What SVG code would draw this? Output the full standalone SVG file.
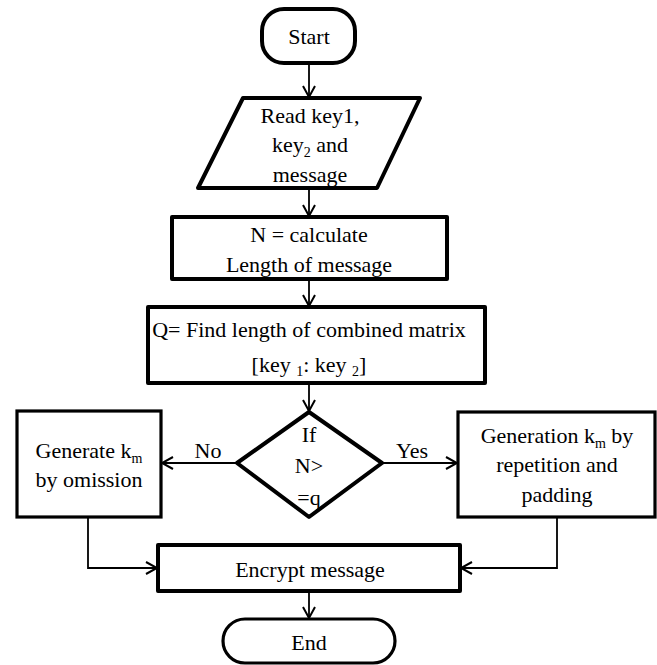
<svg xmlns="http://www.w3.org/2000/svg" width="657" height="665" viewBox="0 0 657 665">
<defs>
<marker id="arr" markerUnits="userSpaceOnUse" markerWidth="14" markerHeight="14" viewBox="0 0 14 14" refX="12" refY="7" orient="auto">
<path d="M1,1 L12,7 L1,13" fill="none" stroke="#000" stroke-width="2"/>
</marker>
<style>
.n{fill:#fff;stroke:#000;stroke-width:4;stroke-linejoin:round}
.m{fill:#fff;stroke:#000;stroke-width:3.2}
.c{fill:none;stroke:#000;stroke-width:1.8}
.a{marker-end:url(#arr)}
text{font-family:"Liberation Serif","Times New Roman",serif;font-size:22px;fill:#000;text-anchor:middle}
.s{font-size:14px}
</style>
</defs>
<rect width="657" height="665" fill="#fff"/>
<g id="connectors">
<line class="c a" x1="309" y1="63" x2="309" y2="97"/>
<line class="c a" x1="309" y1="188" x2="309" y2="216"/>
<line class="c a" x1="309" y1="279" x2="309" y2="306"/>
<line class="c a" x1="309" y1="383" x2="309" y2="411"/>
<line class="c a" x1="237" y1="463" x2="162" y2="463"/>
<line class="c a" x1="382" y1="463" x2="457" y2="463"/>
<polyline class="c a" points="88,517 88,568 157,568"/>
<polyline class="c a" points="557,517 557,568 461,568"/>
<line class="c a" x1="309" y1="591" x2="309" y2="618"/>
<text x="208" y="458">No</text>
<text x="412" y="458">Yes</text>
</g>
<g id="start">
<rect class="n" x="262" y="9" width="93" height="54" rx="22"/>
<text x="309" y="44">Start</text>
</g>
<g id="read">
<polygon class="n" points="243,98 420,98 377,188 198,188"/>
<text x="310" y="123">Read key1,</text>
<text x="310" y="152">key<tspan class="s" dy="5">2</tspan><tspan dy="-5"> and</tspan></text>
<text x="310" y="182">message</text>
</g>
<g id="calc">
<rect class="n" x="172" y="217" width="275" height="62"/>
<text x="309" y="242">N = calculate</text>
<text x="309" y="272">Length of message</text>
</g>
<g id="find">
<rect class="n" x="148" y="307" width="337" height="76"/>
<text x="309" y="337">Q= Find length  of combined  matrix</text>
<text x="309" y="372">[key <tspan class="s" dy="4">1</tspan><tspan dy="-4">: key </tspan><tspan class="s" dy="4">2</tspan><tspan dy="-4">]</tspan></text>
</g>
<g id="decision">
<polygon class="n" points="309,412 382,463 309,517 237,463"/>
<text x="309" y="442">If</text>
<text x="309" y="473">N&gt;</text>
<text x="309" y="505">=q</text>
</g>
<g id="omission">
<rect class="m" x="17" y="411" width="144" height="106"/>
<text x="89" y="458">Generate k<tspan class="s" dy="5">m</tspan></text>
<text x="89" y="487">by omission</text>
</g>
<g id="padding">
<rect class="m" x="458" y="412" width="197" height="105"/>
<text x="557" y="443">Generation k<tspan class="s" dy="5">m</tspan><tspan dy="-5"> by</tspan></text>
<text x="557" y="472">repetition and</text>
<text x="557" y="502">padding</text>
</g>
<g id="encrypt">
<rect class="n" x="158" y="545" width="302" height="46"/>
<text x="310" y="577">Encrypt message</text>
</g>
<g id="end">
<rect class="m" x="223" y="619" width="172" height="44" rx="22"/>
<text x="309" y="650">End</text>
</g>
</svg>
